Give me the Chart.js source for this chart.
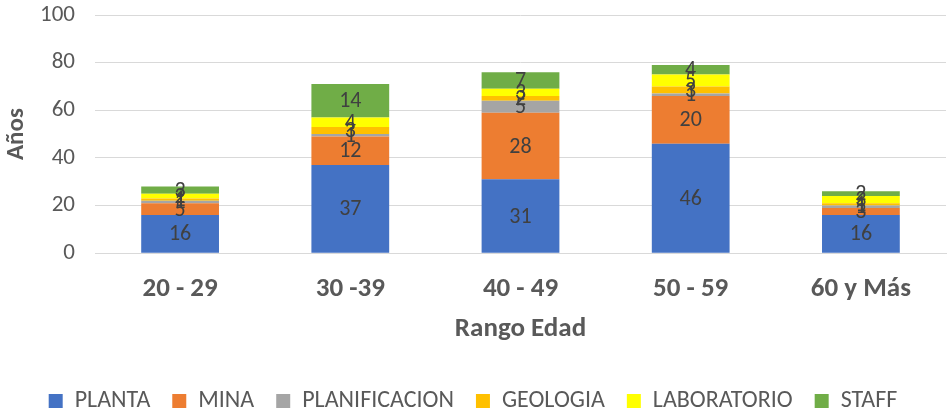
<!DOCTYPE html>
<html>
<head>
<meta charset="utf-8">
<script src="https://cdn.jsdelivr.net/npm/chart.js@4.4.1/dist/chart.umd.min.js"></script>
<style>
  html,body{margin:0;padding:0;background:#fff;}
  #wrap{width:949px;height:412px;}
</style>
</head>
<body>
<div id="wrap"><canvas id="rangoChart" width="949" height="412"></canvas></div>
<script>
// datos
const categorias=["20 - 29","30 -39","40 - 49","50 - 59","60 y Más"];
const planta=[16,37,31,46,16];
const mina=[5,12,28,20,3];
const planificacion=[1,1,5,1,1];
const geologia=[1,3,2,3,1];
const laboratorio=[2,4,3,5,3];
const staff=[3,14,7,4,2];
const yTicks=[0,20,40,60,80,100];

const series=[
    {label:"PLANTA",data:planta,color:"#4472C4"},
    {label:"MINA",data:mina,color:"#ED7D31"},
    {label:"PLANIFICACION",data:planificacion,color:"#A5A5A5"},
    {label:"GEOLOGIA",data:geologia,color:"#FFC000"},
    {label:"LABORATORIO",data:laboratorio,color:"#FFFF00"},
    {label:"STAFF",data:staff,color:"#70AD47"}
];

const fuente="Carlito, Calibri, Lato, sans-serif";

// etiquetas dentro de las barras
const etiquetas={
    id:"etiquetas",
    afterDatasetsDraw(chart){
        const ctx=chart.ctx;
        ctx.save();
        ctx.font="22px "+fuente;
        ctx.fillStyle="#404040";
        ctx.textAlign="center";
        ctx.textBaseline="middle";
        chart.data.datasets.forEach((ds,i)=>{
            chart.getDatasetMeta(i).data.forEach((bar,j)=>{
                const p=bar.getProps(["x","y","base"],true);
                ctx.fillText(ds.data[j],p.x,(p.y+p.base)/2+1);
            });
        });
        ctx.restore();
    }
};

new Chart(document.getElementById("rangoChart").getContext("2d"),{
    type:"bar",
    data:{
        labels:categorias,
        datasets:series.map(s=>({
            label:s.label,
            data:s.data,
            backgroundColor:s.color,
            borderWidth:0,
            barPercentage:0.457,
            categoryPercentage:1
        }))
    },
    options:{
        responsive:false,
        animation:false,
        layout:{padding:{left:0,right:3,top:15,bottom:-11}},
        plugins:{
            legend:{
                position:"bottom",
                labels:{
                    boxWidth:14,
                    boxHeight:14,
                    padding:22,
                    color:"#595959",
                    font:{size:24,family:fuente}
                }
            },
            tooltip:{enabled:false}
        },
        scales:{
            x:{
                stacked:true,
                grid:{display:false},
                border:{color:"#d9d9d9"},
                ticks:{color:"#595959",font:{size:27,weight:"bold",family:fuente},padding:12},
                title:{display:true,text:"Rango Edad",color:"#595959",font:{size:27,weight:"bold",family:fuente},padding:{top:-5,bottom:22}}
            },
            y:{
                stacked:true,
                min:0,
                max:100,
                afterBuildTicks(axis){axis.ticks=yTicks.map(v=>({value:v}));},
                afterFit(axis){axis.paddingTop=0;axis.width=95;},
                grid:{color:"#d9d9d9",drawTicks:false},
                border:{display:false},
                ticks:{color:"#595959",font:{size:23,family:fuente},padding:20},
                title:{display:true,text:"Años",color:"#595959",font:{size:25,weight:"bold",family:fuente},padding:{top:2,bottom:2}}
            }
        }
    },
    plugins:[etiquetas]
});
</script>
</body>
</html>
